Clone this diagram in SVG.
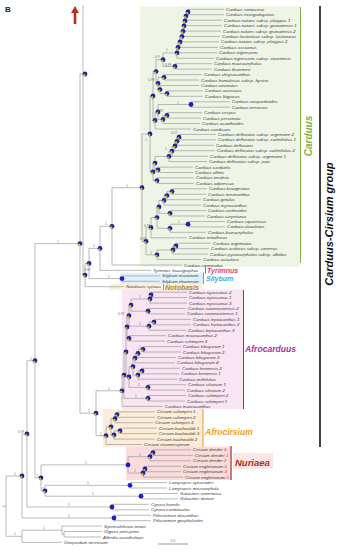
<svg xmlns="http://www.w3.org/2000/svg" xmlns:xlink="http://www.w3.org/1999/xlink" width="337" height="550" viewBox="0 0 337 550">
<style>
.br{fill:none;stroke:#9c9c9c;stroke-width:0.7}
.tx{font-family:"Liberation Sans",Arial,sans-serif;font-style:italic;font-size:4.4px;fill:#3a3a3a}
.sp{font-family:"Liberation Sans",Arial,sans-serif;font-size:3.2px;fill:#6a6a6a}
.gn{font-family:"Liberation Sans",Arial,sans-serif;font-style:italic;font-weight:bold}
.red{fill:#e0283a}
</style>
<defs>
<g id="pie"><circle r="2.4" fill="#23239c"/><path d="M0 0L0.5 2.35A2.4 2.4 0 0 1-2.35 0.5Z" fill="#c6bf3a"/></g>
<g id="blu"><circle r="2.4" fill="#1e1ec8"/></g>
</defs>
<rect width="337" height="550" fill="#ffffff"/>
<!-- backgrounds -->
<g id="backgrounds">
<rect x="140" y="6" width="160" height="261" fill="#eef5e7"/>
<rect x="120" y="272.8" width="83" height="11.5" fill="#def0fb"/>
<rect x="110" y="283.8" width="92" height="6" fill="#fbf0dc"/>
<rect x="122" y="289.5" width="121" height="119.5" fill="#f9e4f1"/>
<rect x="103" y="409" width="100" height="38" fill="#fcedd8"/>
<rect x="126" y="446.5" width="104" height="33.5" fill="#fadcdc"/>
<rect x="233" y="453" width="40" height="16" fill="#fde6e6"/>
</g>
<text x="5" y="11.5" font-family="Liberation Sans,Arial,sans-serif" font-weight="bold" font-size="8" fill="#222">B</text>
<polygon points="75,6 79,13 76.3,13 76.3,24 73.7,24 73.7,13 71,13" fill="#b8321a"/>
<!-- connectors -->
<g id="connectors" class="br">
<path d="M224 9.3H188V14.7H224M188 12H186V20.2H222M186 16.1H185V25.6H222M185 20.9H184V31.1H221M184 26H183V36.5H220M183 31.3H182V41.9H219M182 36.6H180V47.4H218M180 42H178V52.8H217M178 47.4H177V58.3H214M212 63.7H175V69.1H212M177 52.9H163V66.4H175"/>
<path d="M202 74.6H164V80H199M203 90.9H167V96.3H203M199 85.5H160V93.6H167M164 77.3H158V89.6H160M163 59.7H156V83.4H158"/>
<path d="M230 101.8H191V107.2H230M202 112.7H167V118.1H201M167 115.4H163V123.5H200M191 104.5H158V119.5H163M158 112H155V129H191M156 71.6H153V120.5H155"/>
<path d="M216 134.4H179V139.9H216M179 137.2H177V145.3H214M177 141.3H175V150.7H215M175 146H172V156.2H208M172 151.1H169V161.6H207M193 167.1H158V172.5H193M169 156.4H155V169.8H158M194 177.9H157V183.4H194M155 163.1H153V180.7H157M153 96H150V171.9H153"/>
<path d="M207 188.8H172V194.3H206M172 191.6H167V199.7H201M167 195.6H164V205.1H201M206 210.6H170V216H205M164 200.4H159V213.3H170M225 221.5H188V226.9H225M188 224.2H170V232.3H206M159 206.9H157V228.3H170M157 217.6H151V237.8H187M211 243.2H176V248.7H209M176 246H173V254.1H208M173 250H157V259.5H201M151 227.7H146V254.8H157M150 134H142V241.3H146"/>
<path d="M142 187.7H112V265H182M112 226.3H100V270.4H151M160 275.9H122V281.3H160M100 248.4H89V278.6H122M89 263.5H85V286.7H124M83 5V275.1H85"/>
<path d="M187 292.2H151V297.6H187M151 294.9H150V303.1H187M186 308.5H148V313.9H185M150 299H131V311.2H148M191 319.4H154V324.8H191M154 322.1H149V330.3H186M131 305.1H129V326.2H149M166 335.7H129V341.1H165M129 315.7H127V338.4H129"/>
<path d="M181 346.6H143V352H181M143 349.3H138V357.5H176M138 353.4H135V362.9H175M180 368.3H142V373.8H179M142 371H138V379.2H177M135 358.2H133V375.1H138M186 384.7H148V390.1H185M133 366.7H129V387.4H148M127 327H126V377H129M186 395.5H148V401H185M126 352H124V398.3H148M124 375.1H122V406.4H163"/>
<path d="M155 411.9H117V417.3H155M117 414.6H115V422.7H153M157 428.2H120V433.6H157M120 430.9H114V439.1H155M115 418.7H111V435H114M111 426.8H106V444.5H142M122 390.8H96V435.7H106M83 74H80V413.2H96"/>
<path d="M191 449.9H153V455.4H193M153 452.7H150V460.8H191M181 466.3H145V471.7H181M145 469H143V477.1H183M150 456.7H128V473H143M167 482.6H130V488H167M178 493.5H141V498.9H178M130 485.3H45V496.2H141M128 464.9H41V490.8H45M80 243.6H35V477.8H41"/>
<path d="M149 504.3H112V509.8H149M35 360.7H27V507H112M151 515.2H114V520.7H151M27 433.9H22V518H114M102 531.5H64V537H101M102 526.1H62V534.3H64M62 530.2H22V542.4H62M22 476H6V536.3H22M2 506.2H6"/>
</g>
<!-- node markers -->
<g id="node-markers">
<use id="n-c01" href="#pie" x="188" y="12"/><use id="n-c02" href="#pie" x="186" y="16.1"/><use id="n-c03" href="#pie" x="185" y="20.9"/><use id="n-c04" href="#pie" x="184" y="26"/><use id="n-c05" href="#pie" x="183" y="31.3"/><use id="n-c06" href="#pie" x="182" y="36.6"/><use id="n-c07" href="#pie" x="180" y="42"/><use id="n-c08" href="#pie" x="178" y="47.4"/><use id="n-G1" href="#pie" x="177" y="52.9"/><use id="n-G2" href="#pie" x="175" y="66.4"/><use id="n-G3" href="#pie" x="163" y="59.7"/>
<use id="n-G4" href="#pie" x="164" y="77.3"/><use id="n-G5" href="#pie" x="167" y="93.6"/><use id="n-G6" href="#pie" x="160" y="89.6"/><use id="n-G7" href="#pie" x="158" y="83.4"/><use id="n-G8" href="#pie" x="156" y="71.6"/>
<use id="n-G9" href="#blu" x="191" y="104.5"/><use id="n-G10" href="#pie" x="167" y="115.4"/><use id="n-G11" href="#pie" x="163" y="119.5"/><use id="n-G12" href="#pie" x="158" y="112"/><use id="n-G13" href="#pie" x="155" y="120.5"/><use id="n-G14" href="#pie" x="153" y="96"/>
<use id="n-G15" href="#pie" x="179" y="137.2"/><use id="n-G16" href="#pie" x="177" y="141.3"/><use id="n-G17" href="#pie" x="175" y="146"/><use id="n-G18" href="#pie" x="172" y="151.1"/><use id="n-G19" href="#pie" x="169" y="156.4"/><use id="n-G20" href="#pie" x="158" y="169.8"/><use id="n-G22" href="#pie" x="155" y="163.1"/><use id="n-G21" href="#pie" x="157" y="180.7"/><use id="n-G23" href="#pie" x="153" y="171.9"/><use id="n-upper" href="#pie" x="150" y="134"/>
<use id="n-L1" href="#pie" x="172" y="191.6"/><use id="n-L2" href="#pie" x="167" y="195.6"/><use id="n-L3" href="#pie" x="164" y="200.4"/><use id="n-L4" href="#pie" x="170" y="213.3"/><use id="n-L5" href="#pie" x="159" y="206.9"/><use id="n-L6" href="#blu" x="188" y="224.2"/><use id="n-L7" href="#pie" x="170" y="228.3"/><use id="n-L8" href="#pie" x="157" y="217.6"/><use id="n-L9" href="#pie" x="151" y="227.7"/><use id="n-L10" href="#pie" x="176" y="246"/><use id="n-L11" href="#pie" x="173" y="250"/><use id="n-L12" href="#pie" x="157" y="254.8"/><use id="n-L13" href="#pie" x="146" y="241.3"/><use id="n-main" href="#pie" x="142" y="187.7"/>
<use id="n-N112" href="#pie" x="112" y="226.3"/><use id="n-N100" href="#pie" x="100" y="248.4"/><use id="n-silybum" href="#blu" x="122" y="278.6"/><use id="n-N89" href="#pie" x="89" y="263.5"/><use id="n-N85" href="#pie" x="85" y="275.1"/><use id="n-K" href="#pie" x="85" y="74"/><use id="n-V" href="#pie" x="80" y="243.6"/>
<use id="n-Any1" href="#pie" x="151" y="294.9"/><use id="n-Any" href="#pie" x="150" y="299"/><use id="n-Aru" href="#pie" x="148" y="311.2"/><use id="n-A1" href="#pie" x="131" y="305.1"/><use id="n-Ale1" href="#pie" x="154" y="322.1"/><use id="n-Ale" href="#pie" x="149" y="326.2"/><use id="n-A2" href="#pie" x="129" y="315.7"/><use id="n-A3" href="#pie" x="129" y="338.4"/><use id="n-A4" href="#pie" x="127" y="327"/>
<use id="n-K_1" href="#pie" x="143" y="349.3"/><use id="n-K_2" href="#pie" x="138" y="353.4"/><use id="n-K1" href="#pie" x="135" y="358.2"/><use id="n-Ke" href="#pie" x="142" y="371"/><use id="n-K2" href="#pie" x="138" y="375.1"/><use id="n-K3" href="#pie" x="133" y="366.7"/><use id="n-Si" href="#pie" x="148" y="387.4"/><use id="n-K4" href="#pie" x="129" y="377"/><use id="n-B1" href="#pie" x="126" y="352"/><use id="n-Sc" href="#pie" x="148" y="398.3"/><use id="n-B2" href="#pie" x="124" y="375.1"/><use id="n-AF" href="#pie" x="122" y="390.8"/>
<use id="n-C1" href="#pie" x="117" y="414.6"/><use id="n-C3" href="#pie" x="115" y="418.7"/><use id="n-C4" href="#pie" x="120" y="430.9"/><use id="n-C5" href="#pie" x="114" y="435"/><use id="n-C6" href="#pie" x="111" y="426.8"/><use id="n-AC" href="#pie" x="106" y="435.7"/><use id="n-C2" href="#pie" x="96" y="413.2"/>
<use id="n-D1" href="#pie" x="153" y="452.7"/><use id="n-D" href="#pie" x="150" y="456.7"/><use id="n-E1" href="#pie" x="145" y="469"/><use id="n-E" href="#pie" x="143" y="473"/><use id="n-N" href="#blu" x="128" y="464.9"/><use id="n-Lam" href="#blu" x="130" y="485.3"/><use id="n-Gal" href="#blu" x="141" y="496.2"/><use id="n-LG" href="#pie" x="45" y="490.8"/><use id="n-W" href="#pie" x="41" y="477.8"/><use id="n-Y" href="#pie" x="35" y="360.7"/><use id="n-Cy" href="#blu" x="112" y="507"/><use id="n-Z" href="#pie" x="27" y="433.9"/><use id="n-Pt" href="#blu" x="114" y="518"/><use id="n-X1" href="#pie" x="22" y="476"/>
</g>
<!-- support values -->
<g id="support" class="sp">
<text x="166" y="51">1</text><text x="155" y="58.4">0.9</text><text x="165" y="66">0.99</text><text x="148" y="81">0.98</text><text x="177" y="103.6">1</text><text x="157" y="112">0.97</text><text x="171" y="134">0.57</text><text x="145" y="141">1</text><text x="165" y="149.5">1</text>
<text x="126" y="186.6">1</text><text x="105" y="225.2">1</text><text x="144" y="226.6">0.98</text><text x="140" y="240.2">0.98</text><text x="178" y="223.3">1</text><text x="150" y="253.7">1</text>
<text x="57" y="242.5">1</text><text x="93" y="247.3">1</text><text x="84" y="271">0.99</text><text x="108" y="277.5">1</text>
<text x="139" y="297.9">1</text><text x="118" y="314.5">0.97</text><text x="139" y="325.1">1</text><text x="139" y="348.2">1</text><text x="138" y="386.3">1</text><text x="135" y="397.2">1</text><text x="108" y="389.7">1</text><text x="88" y="412.1">1</text><text x="100" y="434.6">1</text>
<text x="139" y="455.6">1</text><text x="134" y="471.9">1</text><text x="85" y="463.8">1</text><text x="37" y="476.7">1</text><text x="42" y="489.7">1</text><text x="87" y="484.2">1</text><text x="92" y="495.1">1</text>
<text x="18" y="432.8">0.99</text><text x="30" y="359.6">1</text><text x="14" y="474.9">1</text><text x="68" y="505.9">1</text><text x="68" y="516.9">1</text><text x="43" y="529.1">1</text><text x="14" y="535.2">1</text>
</g>
<!-- taxa -->
<g id="t0"><text class="tx" x="226" y="10.8">Carduus santacreui</text></g>
<g id="t1"><text class="tx" x="226" y="16.2">Carduus rivasgodayanus</text></g>
<g id="t2"><text class="tx" x="224" y="21.7">Carduus nutans subsp. platypus 1</text></g>
<g id="t3"><text class="tx" x="224" y="27.1">Carduus nutans subsp. granatensis 1</text></g>
<g id="t4"><text class="tx" x="223" y="32.6">Carduus nutans subsp. granatensis 2</text></g>
<g id="t5"><text class="tx" x="222" y="38">Carduus lusitanicus subsp. lusitanicus</text></g>
<g id="t6"><text class="tx" x="221" y="43.4">Carduus nutans subsp. platypus 2</text></g>
<g id="t7"><text class="tx" x="220" y="48.9">Carduus assoanus</text></g>
<g id="t8"><text class="tx" x="219" y="54.3">Carduus nigrescens</text></g>
<g id="t9"><text class="tx" x="216" y="59.8">Carduus nigrescens subsp. vivariensis</text></g>
<g id="t10"><text class="tx" x="214" y="65.2">Carduus macrocephalus</text></g>
<g id="t11"><text class="tx" x="214" y="70.6">Carduus thoermeri</text></g>
<g id="t12"><text class="tx" x="204" y="76.1">Carduus chrysacanthus</text></g>
<g id="t13"><text class="tx" x="201" y="81.5">Carduus hamulosus subsp. hystrix</text></g>
<g id="t14"><text class="tx" x="201" y="87">Carduus uncinatus</text></g>
<g id="t15"><text class="tx" x="205" y="92.4">Carduus aurosicus</text></g>
<g id="t16"><text class="tx" x="205" y="97.8">Carduus litigiosus</text></g>
<g id="t17"><text class="tx" x="232" y="103.3">Carduus onopordioides</text></g>
<g id="t18"><text class="tx" x="232" y="108.7">Carduus nervosus</text></g>
<g id="t19"><text class="tx" x="204" y="114.2">Carduus crispus</text></g>
<g id="t20"><text class="tx" x="203" y="119.6">Carduus personata</text></g>
<g id="t21"><text class="tx" x="202" y="125">Carduus acanthoides</text></g>
<g id="t22"><text class="tx" x="193" y="130.5">Carduus candicans</text></g>
<g id="t23"><text class="tx" x="218" y="135.9">Carduus defloratus subsp. argemone 2</text></g>
<g id="t24"><text class="tx" x="218" y="141.4">Carduus defloratus subsp. carlinifolius 1</text></g>
<g id="t25"><text class="tx" x="216" y="146.8">Carduus defloratus</text></g>
<g id="t26"><text class="tx" x="217" y="152.2">Carduus defloratus subsp. carlinifolius 2</text></g>
<g id="t27"><text class="tx" x="210" y="157.7">Carduus defloratus subsp. argemone 1</text></g>
<g id="t28"><text class="tx" x="209" y="163.1">Carduus defloratus subsp. paui</text></g>
<g id="t29"><text class="tx" x="195" y="168.6">Carduus carduelis</text></g>
<g id="t30"><text class="tx" x="195" y="174">Carduus affinis</text></g>
<g id="t31"><text class="tx" x="196" y="179.4">Carduus tmoleus</text></g>
<g id="t32"><text class="tx" x="196" y="184.9">Carduus adpressus</text></g>
<g id="t33"><text class="tx" x="209" y="190.3">Carduus bourgeanus</text></g>
<g id="t34"><text class="tx" x="208" y="195.8">Carduus meonanthus</text></g>
<g id="t35"><text class="tx" x="203" y="201.2">Carduus getulus</text></g>
<g id="t36"><text class="tx" x="203" y="206.6">Carduus myriacanthus</text></g>
<g id="t37"><text class="tx" x="208" y="212.1">Carduus carlinoides</text></g>
<g id="t38"><text class="tx" x="207" y="217.5">Carduus carpetanus</text></g>
<g id="t39"><text class="tx" x="227" y="223">Carduus squarrosus</text></g>
<g id="t40"><text class="tx" x="227" y="228.4">Carduus clavulatus</text></g>
<g id="t41"><text class="tx" x="208" y="233.8">Carduus baeocephalus</text></g>
<g id="t42"><text class="tx" x="189" y="239.3">Carduus tenuiflorus</text></g>
<g id="t43"><text class="tx" x="213" y="244.7">Carduus argentatus</text></g>
<g id="t44"><text class="tx" x="211" y="250.2">Carduus arabicus subsp. cinereus</text></g>
<g id="t45"><text class="tx" x="210" y="255.6">Carduus pycnocephalus subsp. albidus</text></g>
<g id="t46"><text class="tx" x="203" y="261">Carduus acicularis</text></g>
<g id="t47"><text class="tx" x="184" y="266.5">Carduus seminudus</text></g>
<g id="t48"><text class="tx" x="153" y="271.9">Tyrimnus leucographus</text></g>
<g id="t49"><text class="tx" x="162" y="277.4">Silybum marianum</text></g>
<g id="t50"><text class="tx" x="162" y="282.8">Silybum eburneum</text></g>
<g id="t51"><text class="tx" x="126" y="288.2">Notobasis syriaca</text></g>
<g id="t52"><text class="tx" x="189" y="293.7">Carduus nyassanus 2</text></g>
<g id="t53"><text class="tx" x="189" y="299.1">Carduus nyassanus 1</text></g>
<g id="t54"><text class="tx" x="189" y="304.6">Carduus nyassanus 3</text></g>
<g id="t55"><text class="tx" x="188" y="310">Carduus ruwenzoriensis 2</text></g>
<g id="t56"><text class="tx" x="187" y="315.4">Carduus ruwenzoriensis 1</text></g>
<g id="t57"><text class="tx" x="193" y="320.9">Carduus leptacanthus 1</text></g>
<g id="t58"><text class="tx" x="193" y="326.3">Carduus leptacanthus 2</text></g>
<g id="t59"><text class="tx" x="188" y="331.8">Carduus leptacanthus 3</text></g>
<g id="t60"><text class="tx" x="168" y="337.2">Carduus macracanthus 2</text></g>
<g id="t61"><text class="tx" x="167" y="342.6">Carduus schimperi 3</text></g>
<g id="t62"><text class="tx" x="183" y="348.1">Carduus kikuyorum 1</text></g>
<g id="t63"><text class="tx" x="183" y="353.5">Carduus kikuyorum 2</text></g>
<g id="t64"><text class="tx" x="178" y="359">Carduus kikuyorum 3</text></g>
<g id="t65"><text class="tx" x="177" y="364.4">Carduus kikuyorum 4</text></g>
<g id="t66"><text class="tx" x="182" y="369.8">Carduus keniensis 2</text></g>
<g id="t67"><text class="tx" x="181" y="375.3">Carduus keniensis 1</text></g>
<g id="t68"><text class="tx" x="179" y="380.7">Carduus millefolius</text></g>
<g id="t69"><text class="tx" x="188" y="386.2">Carduus silvarum 1</text></g>
<g id="t70"><text class="tx" x="187" y="391.6">Carduus silvarum 2</text></g>
<g id="t71"><text class="tx" x="188" y="397">Carduus schimperi 2</text></g>
<g id="t72"><text class="tx" x="187" y="402.5">Carduus schimperi 1</text></g>
<g id="t73"><text class="tx" x="165" y="407.9">Carduus macracanthus</text></g>
<g id="t74"><text class="tx" x="157" y="413.4">Cirsium schimperi 1</text></g>
<g id="t75"><text class="tx" x="157" y="418.8">Cirsium schimperi 2</text></g>
<g id="t76"><text class="tx" x="155" y="424.2">Cirsium schimperi 3</text></g>
<g id="t77"><text class="tx" x="159" y="429.7">Cirsium buchwaldii 1</text></g>
<g id="t78"><text class="tx" x="159" y="435.1">Cirsium buchwaldii 3</text></g>
<g id="t79"><text class="tx" x="157" y="440.6">Cirsium buchwaldii 2</text></g>
<g id="t80"><text class="tx" x="144" y="446">Cirsium straminispinum</text></g>
<g id="t81"><text class="tx" x="193" y="451.4">Cirsium dender <tspan class="red">3</tspan></text></g>
<g id="t82"><text class="tx" x="195" y="456.9">Cirsium dender <tspan class="red">1</tspan></text></g>
<g id="t83"><text class="tx" x="193" y="462.3">Cirsium dender <tspan class="red">2</tspan></text></g>
<g id="t84"><text class="tx" x="183" y="467.8">Cirsium englerianum <tspan class="red">2</tspan></text></g>
<g id="t85"><text class="tx" x="183" y="473.2">Cirsium englerianum <tspan class="red">3</tspan></text></g>
<g id="t86"><text class="tx" x="185" y="478.6">Cirsium englerianum <tspan class="red">1</tspan></text></g>
<g id="t87"><text class="tx" x="169" y="484.1">Lamyropsis cynaroides</text></g>
<g id="t88"><text class="tx" x="169" y="489.5">Lamyropsis microcephala</text></g>
<g id="t89"><text class="tx" x="180" y="495">Galactites tomentosa</text></g>
<g id="t90"><text class="tx" x="180" y="500.4">Galactites duriaei</text></g>
<g id="t91"><text class="tx" x="151" y="505.8">Cynara humilis</text></g>
<g id="t92"><text class="tx" x="151" y="511.3">Cynara cardunculus</text></g>
<g id="t93"><text class="tx" x="153" y="516.7">Ptilostemon diacanthus</text></g>
<g id="t94"><text class="tx" x="153" y="522.2">Ptilostemon gnaphaloides</text></g>
<g id="t95"><text class="tx" x="104" y="527.6">Syreitschikovia tenuis</text></g>
<g id="t96"><text class="tx" x="104" y="533">Olgaea petri-primi</text></g>
<g id="t97"><text class="tx" x="103" y="538.5">Alfredia acantholepis</text></g>
<g id="t98"><text class="tx" x="64" y="543.9">Onopordum nervosum</text></g>
<!-- clade bars and names -->
<g id="clade-carduus"><line x1="300.5" y1="7" x2="300.5" y2="263" stroke="#7cb342" stroke-width="1"/><text class="gn" transform="translate(311.5,136) rotate(-90)" text-anchor="middle" font-size="10" font-weight="normal" fill="#7cb342">Carduus</text></g>
<g id="clade-tyrimnus"><line x1="205.5" y1="266.5" x2="205.5" y2="273.5" stroke="#e0407a" stroke-width="1"/><text class="gn" x="207" y="272.8" font-size="7" font-weight="normal" fill="#e0407a">Tyrimnus</text></g>
<g id="clade-silybum"><line x1="203.5" y1="272.5" x2="203.5" y2="284" stroke="#4aa3df" stroke-width="1"/><text class="gn" x="206" y="281" font-size="7" font-weight="normal" fill="#4aa3df">Silybum</text></g>
<g id="clade-notobasis"><line x1="163.5" y1="284" x2="163.5" y2="290" stroke="#c09a2a" stroke-width="1"/><text class="gn" x="165" y="289.5" font-size="7" fill="#b08a22">Notobasis</text></g>
<g id="clade-afrocarduus"><line x1="243.5" y1="290" x2="243.5" y2="409" stroke="#8e2f8e" stroke-width="1"/><text class="gn" x="245" y="352" font-size="8.6" fill="#a8329a">Afrocarduus</text></g>
<g id="clade-afrocirsium"><line x1="203" y1="409" x2="203" y2="447" stroke="#e8a020" stroke-width="1"/><text class="gn" x="205" y="435" font-size="8.5" fill="#f0a020">Afrocirsium</text></g>
<g id="clade-nuriaea"><line x1="231" y1="446" x2="231" y2="480" stroke="#9a2a1a" stroke-width="1.2"/><text class="gn" x="235" y="465.5" font-size="9.5" fill="#a83220">Nuriaea</text></g>
<g id="group-carduus-cirsium"><line x1="320" y1="6" x2="320" y2="447" stroke="#111" stroke-width="1.6"/><text class="gn" transform="translate(332.5,224) rotate(-90)" text-anchor="middle" font-size="11" fill="#111">Carduus-Cirsium group</text></g>
<g id="scale-bar"><line x1="158" y1="544" x2="188" y2="544" stroke="#555" stroke-width="0.6"/><text class="sp" x="173" y="542.3" text-anchor="middle">0.5</text></g>
</svg>
